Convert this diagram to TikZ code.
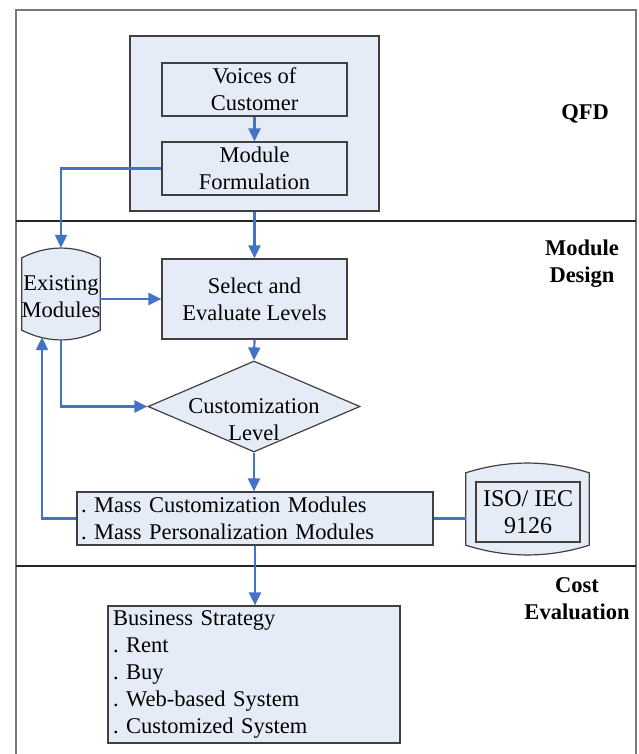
\documentclass[tikz,border=0pt]{standalone}
\usepackage{fontspec}
\setmainfont{Liberation Serif}
\usetikzlibrary{arrows.meta,calc,shapes.geometric}
\definecolor{fillblue}{RGB}{230,236,247}
\definecolor{arrowblue}{RGB}{68,114,196}
\definecolor{edgegray}{RGB}{64,64,64}
\definecolor{framegray}{RGB}{120,120,120}
\frenchspacing
\begin{document}
\begin{tikzpicture}[x=1pt,y=-1pt,
  txt/.style={font=\fontsize{22.5}{27}\selectfont, align=center, inner sep=0pt},
  shp/.style={draw=edgegray, line width=1.2pt, fill=fillblue},
  box/.style={shp, txt},
  arr/.style={draw=arrowblue, line width=2.2pt, -{Triangle[length=13pt,width=12pt]}},
  link/.style={draw=arrowblue, line width=2.2pt},
  lab/.style={font=\fontsize{22.5}{27}\selectfont\bfseries, align=center, inner sep=0pt},
  frameline/.style={draw=framegray, line width=1.5pt},
  sepline/.style={draw=black!85, line width=1.2pt}]
\useasboundingbox (0,0) rectangle (638,754);
% frame and separators
\draw[frameline] (16,754) -- (16,10) -- (636,10) -- (636,754);
\draw[sepline] (16,221) -- (636,221);
\draw[sepline] (16,566) -- (636,566);
% section labels
\node[lab] (qfd) at (585,114) {QFD};
\node[lab] (md) at (582,264) {Module\\Design};
\node[lab] (ce) at (577,599) {Cost\\Evaluation};
% QFD block
\node[box, minimum width=249pt, minimum height=175pt] (qfdbox) at (254.5,123.5) {};
\node[box, minimum width=185pt, minimum height=53pt] (voc) at (254.5,89.5) {Voices of\\Customer};
\node[box, minimum width=185pt, minimum height=53pt] (mf) at (254.5,168.5) {Module\\Formulation};
% module design
\node[box, minimum width=185pt, minimum height=80pt] (sel) at (254.5,299) {Select and\\Evaluate Levels};
\node[txt, minimum width=78pt, minimum height=92pt] (exist) at (61,294) {};
\draw[shp] ($(exist.north west)+(0,10)$) .. controls +(26,-13) and +(-26,-13) .. ($(exist.north east)+(0,10)$)
  -- ($(exist.south east)+(0,-10)$) .. controls +(-26,13) and +(26,13) .. ($(exist.south west)+(0,-10)$) -- cycle;
\node[txt] (existtxt) at (61,297) {Existing\\Modules};
\node[diamond, shp, minimum width=212pt, minimum height=91pt, inner sep=0pt] (diam) at (254,406.5) {};
\node[txt] (dtext) at (254,420) {Customization\\Level};
\node[box, minimum height=53pt, text width=348pt, inner xsep=4pt, align=left] (mass) at (255,518.5)
  {. Mass Customization Modules\\. Mass Personalization Modules};
\node[txt, minimum width=123pt, minimum height=92pt] (isocyl) at (527.5,509) {};
\draw[shp] ($(isocyl.north west)+(0,10)$) .. controls +(41,-13) and +(-41,-13) .. ($(isocyl.north east)+(0,10)$)
  -- ($(isocyl.south east)+(0,-10)$) .. controls +(-41,13) and +(41,13) .. ($(isocyl.south west)+(0,-10)$) -- cycle;
\node[box, minimum width=104pt, minimum height=60pt, font=\fontsize{24}{27}\selectfont] (iso) at (528,512) {ISO/ IEC\\9126};
% cost evaluation
\node[box, text width=282pt, inner xsep=5pt, minimum height=137pt, align=left] (bus) at (254,674.5)
  {Business Strategy\\. Rent\\. Buy\\. Web-based System\\. Customized System};
% connectors
\draw[arr] (voc) -- (mf);
\draw[arr] (mf.west) -| (exist.north);
\draw[arr] (qfdbox.south) -- (sel.north);
\draw[arr] (exist.east |- sel.west) -- (sel.west);
\draw[arr] (sel.south) -- (diam.north);
\draw[arr] (exist.south) |- (diam.west);
\draw[arr] (diam.south) -- (diam.south |- mass.north);
\draw[arr] (mass.west) -| ($(exist.south)+(-19,-3)$);
\draw[link] (mass.east) -- (mass.east -| isocyl.west);
\draw[arr] (mass.south) -- (mass.south |- bus.north);
\end{tikzpicture}
\end{document}
